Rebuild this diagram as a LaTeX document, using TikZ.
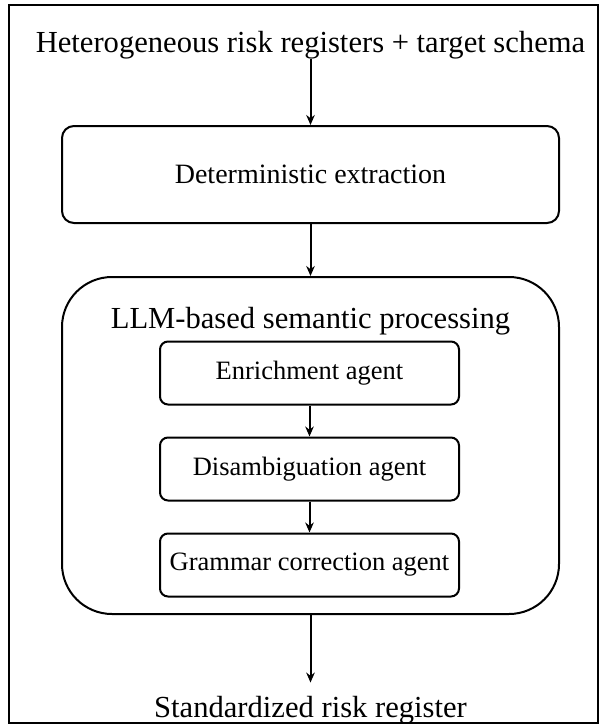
\documentclass[tikz,border=0pt]{standalone}
\usepackage{fontspec}
\setmainfont{Liberation Serif}
\usetikzlibrary{shapes.geometric, arrows.meta}
\tikzstyle{plain} = [inner sep=0pt, anchor=base, font=\fontsize{30.6}{36}\selectfont]
\tikzstyle{stage} = [rectangle, rounded corners=12pt, minimum width=497pt, minimum height=97pt, text centered, draw=black, line width=2pt, font=\fontsize{28}{34}\selectfont]
\tikzstyle{group} = [rectangle, rounded corners=50pt, minimum width=497pt, minimum height=337pt, draw=black, line width=2pt]
\tikzstyle{agent} = [rectangle, rounded corners=8pt, minimum width=299pt, minimum height=63pt, text centered, draw=black, line width=2pt, font=\fontsize{26.5}{31}\selectfont]
\tikzstyle{arrow} = [line width=2pt,->,>={Stealth[length=10pt,width=8.5pt]}]

\begin{document}
\begin{tikzpicture}[x=1pt, y=-1pt]
\useasboundingbox (0,0) rectangle (600,724);
\draw [line width=2pt] (9,5) rectangle (598,723);
\node (src) [plain] at (310.5,52) {Heterogeneous risk registers + target schema};
\node (extract) [stage] at (310.5,174.5) {Deterministic extraction};
\node (llm) [group] at (310.5,445.5) {};
\node (title) [plain] at (310.5,328) {LLM-based semantic processing};
\node (enrich) [agent] at (309.5,373) {Enrichment agent};
\node (disamb) [agent] at (309.5,469) {Disambiguation agent};
\node (grammar) [agent] at (309.5,565) {Grammar correction agent};
\node (out) [plain] at (310.5,717) {Standardized risk register};
\draw [arrow] (src) -- (extract);
\draw [arrow] (extract) -- (llm);
\draw [arrow] (enrich) -- (disamb);
\draw [arrow] (disamb) -- (grammar);
\draw [arrow, shorten >=13pt] (llm) -- (out);
\end{tikzpicture}
\end{document}
